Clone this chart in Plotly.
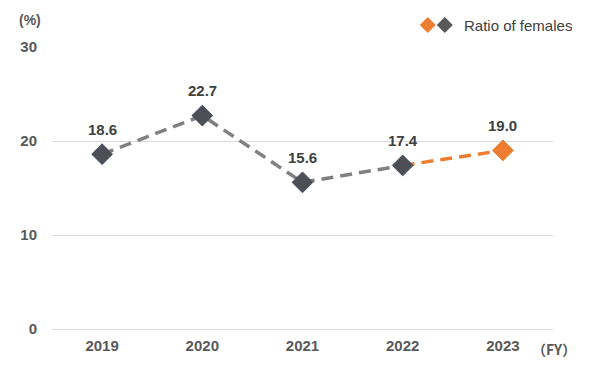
import plotly.graph_objects as go

years = ["2019", "2020", "2021", "2022", "2023"]
ratio = [18.6, 22.7, 15.6, 17.4, 19.0]
labels = ["18.6", "22.7", "15.6", "17.4", "19.0"]
y_ticks = [0, 10, 20, 30]

GRAY_LINE = "#808080"
GRAY_MARK = "#4D4F55"
ORANGE = "#ED7D31"
TEXT = "#404040"
FONT = "Liberation Sans, Arial, sans-serif"

fig = go.Figure()

fig.add_trace(go.Scatter(
    x=years[:4], y=ratio[:4], mode="lines",
    line=dict(color=GRAY_LINE, width=3.5, dash="12px,7px"),
    hoverinfo="skip", showlegend=False))
fig.add_trace(go.Scatter(
    x=years[3:], y=ratio[3:], mode="lines",
    line=dict(color=ORANGE, width=3.5, dash="12px,7px"),
    hoverinfo="skip", showlegend=False))
fig.add_trace(go.Scatter(
    x=years[:4], y=ratio[:4], mode="markers",
    marker=dict(symbol="diamond", size=16, color=GRAY_MARK,
                line=dict(color="#44546A", width=1)),
    showlegend=False))
fig.add_trace(go.Scatter(
    x=years[4:], y=ratio[4:], mode="markers",
    marker=dict(symbol="diamond", size=16, color=ORANGE,
                line=dict(color=ORANGE, width=1)),
    showlegend=False))

annotations = [
    dict(x=i, y=v, xref="x", yref="y", text=f"<b>{lab}</b>", showarrow=False,
         yshift=25, font=dict(family=FONT, size=15, color=TEXT))
    for i, (v, lab) in enumerate(zip(ratio, labels))
]
annotations += [
    dict(text="Ratio of females", xref="paper", yref="paper",
         x=0.818, y=1.078, xanchor="left", yanchor="middle",
         showarrow=False, font=dict(size=15, color="#404040", family=FONT)),
    dict(text="<b>(%)</b>", xref="paper", yref="paper",
         x=-0.044, y=1.096, xanchor="center", yanchor="middle",
         showarrow=False, font=dict(size=14, color="#595959", family=FONT)),
    dict(text="<b>（FY）</b>", xref="paper", yref="paper",
         x=0.954, y=-0.071, xanchor="left", yanchor="middle",
         showarrow=False,
         font=dict(size=14, color="#595959", family="Noto Sans CJK JP, sans-serif")),
]

fig.update_layout(
    width=600, height=377,
    margin=dict(l=44, r=55, t=39, b=56),
    plot_bgcolor="white", paper_bgcolor="white",
    font=dict(family=FONT, color="#595959"),
    xaxis=dict(
        type="category", range=[-0.5, 4.5], automargin=False,
        showgrid=False, showline=False, zeroline=False,
        ticks="", ticklabelstandoff=6,
        tickfont=dict(size=15, color="#595959", weight="bold"),
    ),
    yaxis=dict(
        range=[0, 30], tickvals=y_ticks, automargin=False,
        showgrid=True, gridcolor="#D9D9D9", gridwidth=1,
        zeroline=True, zerolinecolor="#D9D9D9", zerolinewidth=1,
        showline=False, ticks="",
        ticklabelstandoff=14,
        tickfont=dict(size=15, color="#595959", weight="bold"),
    ),
    shapes=[
        dict(type="path", xref="paper", yref="paper",
             path="M 0.750 1.106 L 0.766 1.078 L 0.750 1.050 L 0.734 1.078 Z",
             fillcolor=ORANGE, line=dict(width=0)),
        dict(type="path", xref="paper", yref="paper",
             path="M 0.784 1.106 L 0.800 1.078 L 0.784 1.050 L 0.768 1.078 Z",
             fillcolor="#595959", line=dict(width=0)),
    ],
    annotations=annotations,
)

fig.write_html("out.html")
